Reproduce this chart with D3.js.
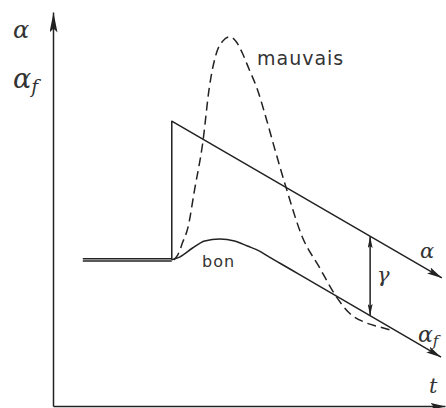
<!DOCTYPE html>
<meta charset="utf-8">
<head>
  <title>alpha et alpha_f : bon et mauvais</title>
  <style>
    body { margin: 0; background: #fff; }
    .curve { fill: none; stroke: #222; stroke-width: 1.5; stroke-linejoin: round; }
    .lbl { font-family: "DejaVu Sans", sans-serif; fill: #333; letter-spacing: 1px; }
    .greek { font-family: "DejaVu Serif", serif; font-style: italic; fill: #333; }
  </style>
</head>
<body>
<div id="chart"></div>
<script src="https://cdn.jsdelivr.net/npm/d3@7/dist/d3.min.js"></script>
<script>

  // double palier initial
  var baseT = [0.76, 3.03];
  var baseA = [3.71, 3.71];

  // consigne alpha : saut puis rampe
  var alphaT = [3.03, 3.03, 9.92];
  var alphaA = [3.71, 7.23, 3.25];

  // reponse "bon"
  var bonT = [3.03, 3.23, 3.56, 3.87, 4.25, 4.63, 4.96, 5.27, 5.52, 5.78, 6.28, 9.90];
  var bonA = [3.71, 3.78, 4.01, 4.19, 4.24, 4.19, 4.06, 3.93, 3.78, 3.63, 3.34, 1.24];

  // reponse "mauvais"
  var mauvaisT = [3.08, 3.18, 3.31, 3.44, 3.61, 3.82, 3.99, 4.17, 4.33, 4.50, 4.68, 4.83,
                  5.01, 5.19, 5.45, 5.65, 5.95, 6.36, 6.79, 7.23, 7.56, 7.99, 8.32, 8.70];
  var mauvaisA = [3.71, 3.83, 4.16, 4.52, 5.48, 6.68, 8.10, 8.96, 9.26, 9.37, 9.24, 8.96,
                  8.53, 8.10, 7.26, 6.55, 5.53, 4.29, 3.53, 2.77, 2.36, 2.11, 2.01, 1.90];

  // ecart gamma
  var gammaT = 8.09;
  var gammaA = [4.31, 2.29];

  var width = 446;
  var height = 408;

  var x = d3.scaleLinear().domain([0, 10]).range([53, 445]);
  var y = d3.scaleLinear().domain([0, 10]).range([406, 12]);

  var svg = d3.select('#chart')
    .append('svg')
    .attr('width', width)
    .attr('height', height);

  var defs = svg.append('defs');
  function marker(id, len, wid) {
    defs.append('marker')
      .attr('id', id)
      .attr('viewBox', '0 0 ' + len + ' ' + wid)
      .attr('refX', len)
      .attr('refY', wid / 2)
      .attr('markerWidth', len)
      .attr('markerHeight', wid)
      .attr('markerUnits', 'userSpaceOnUse')
      .attr('orient', 'auto-start-reverse')
      .append('path')
      .attr('d', 'M0,0 L' + len + ',' + (wid / 2) + ' L0,' + wid + ' L' + (len * 0.2) + ',' + (wid / 2) + ' Z')
      .attr('fill', '#222');
  }
  marker('arrowL', 20, 8);
  marker('arrowM', 15, 7);
  marker('arrowS', 12, 5);

  // axes sans graduations
  var xAxis = svg.append('g')
    .attr('transform', 'translate(0,' + y(0) + ')')
    .call(d3.axisBottom(x).tickValues([]).tickSizeOuter(0));
  xAxis.select('.domain').attr('stroke', '#222').attr('stroke-width', 1.5).attr('marker-end', 'url(#arrowM)');

  var yAxis = svg.append('g')
    .attr('transform', 'translate(' + x(0) + ',0)')
    .call(d3.axisLeft(y).tickValues([]).tickSizeOuter(0));
  yAxis.select('.domain').attr('stroke', '#222').attr('stroke-width', 1.5).attr('marker-end', 'url(#arrowL)');

  function pts(ts, as) {
    return ts.map(function(t, i) { return [t, as[i]]; });
  }

  var straight = d3.line()
    .x(function(d) { return x(d[0]); })
    .y(function(d) { return y(d[1]); });

  var smooth = d3.line()
    .x(function(d) { return x(d[0]); })
    .y(function(d) { return y(d[1]); })
    .curve(d3.curveMonotoneX);

  // double trait du palier
  [-1.2, 1.2].forEach(function(off) {
    svg.append('path')
      .attr('class', 'curve')
      .attr('stroke-width', 1)
      .attr('transform', 'translate(0,' + off + ')')
      .attr('d', straight(pts(baseT, baseA)));
  });

  svg.append('path')
    .attr('class', 'curve')
    .attr('d', straight(pts(alphaT, alphaA)))
    .attr('marker-end', 'url(#arrowM)');

  svg.append('path')
    .attr('class', 'curve')
    .attr('d', smooth(pts(bonT, bonA)))
    .attr('marker-end', 'url(#arrowM)');

  svg.append('path')
    .attr('class', 'curve')
    .attr('stroke-dasharray', '9,5')
    .attr('d', smooth(pts(mauvaisT, mauvaisA)));

  svg.append('path')
    .attr('class', 'curve')
    .attr('stroke-width', 1.2)
    .attr('d', straight([[gammaT, gammaA[0]], [gammaT, gammaA[1]]]))
    .attr('marker-start', 'url(#arrowS)')
    .attr('marker-end', 'url(#arrowS)');

  // textes
  svg.append('text').attr('class', 'lbl').attr('x', 257).attr('y', 65)
    .style('font-size', '19px').text('mauvais');
  svg.append('text').attr('class', 'lbl').attr('x', 202).attr('y', 267)
    .style('font-size', '16px').text('bon');

  function greek(px, py, size, main, sub) {
    var t = svg.append('text').attr('class', 'greek')
      .attr('x', px).attr('y', py).style('font-size', size + 'px').text(main);
    if (sub) {
      t.append('tspan').attr('dy', size * 0.2).style('font-size', (size * 0.7) + 'px').text(sub);
    }
  }
  greek(13, 38, 24, 'α');
  greek(13, 88, 27, 'α', 'f');
  greek(420, 258, 21, 'α');
  greek(418, 342, 22, 'α', 'f');
  greek(377, 282, 21, 'γ');
  greek(429, 393, 21, 't');

</script>
</body>
